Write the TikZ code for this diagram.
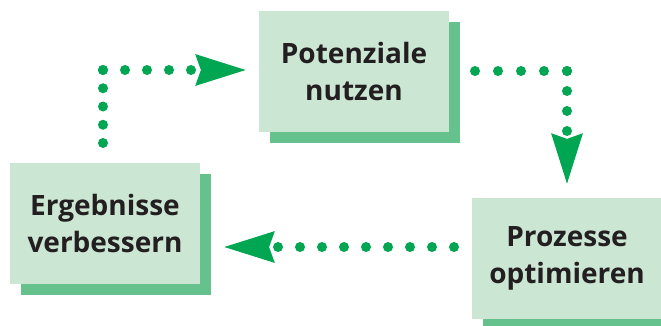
\documentclass[tikz,border=0pt]{standalone}
\usepackage{fontspec}
\setmainfont{Open Sans}
\usetikzlibrary{arrows.meta,shadows}
\definecolor{boxfill}{HTML}{CCE6D4}
\definecolor{boxshadow}{HTML}{66C28C}
\definecolor{dotgreen}{HTML}{00A651}
\definecolor{txt}{HTML}{231F20}
\tikzset{
  stepbox/.style={fill=boxfill, minimum width=190pt, minimum height=121pt, inner sep=0pt,
    align=center, text=txt, font=\fontsize{28pt}{37pt}\selectfont\bfseries,
    drop shadow={shadow xshift=11pt, shadow yshift=-11pt, fill=boxshadow, opacity=1}},
  dots/.style={draw=dotgreen, line width=10pt, line cap=round},
  tip/.style={-{Stealth[length=50pt,width=29pt,inset=4pt,fill=dotgreen]}}
}
\begin{document}
\begin{tikzpicture}[x=1pt,y=-1pt]
\useasboundingbox (0,0) rectangle (661,325);
\clip (0,0) rectangle (661,325);
\node[stepbox] (pot) at (354,71.5) {Potenziale\\nutzen};
\node[stepbox] (erg) at (105,223) {Ergebnisse\\verbessern};
\node[stepbox] (pro) at (567,258) {Prozesse\\optimieren};
% connector: Ergebnisse -> Potenziale
\coordinate (a1) at (103,143);
\coordinate (a2) at (103,70);
\coordinate (a3) at (247,70);
\draw[dots, dash pattern=on 0pt off 18.25pt] (a1) -- (a2);
\draw[dots, dash pattern=on 0pt off 22pt, tip] (a2) -- (a3);
% connector: Potenziale -> Prozesse
\coordinate (b1) at (475,71);
\coordinate (b2) at (567,71);
\coordinate (b3) at (567,185);
\draw[dots, dash pattern=on 0pt off 23pt] (b1) -- (b2);
\draw[dots, dash pattern=on 0pt off 20pt, tip] (b2) -- (b3);
% connector: Prozesse -> Ergebnisse
\coordinate (c1) at (454,247);
\coordinate (c2) at (223,247);
\draw[dots, dash pattern=on 0pt off 22pt, tip] (c1) -- (c2);
\end{tikzpicture}
\end{document}
